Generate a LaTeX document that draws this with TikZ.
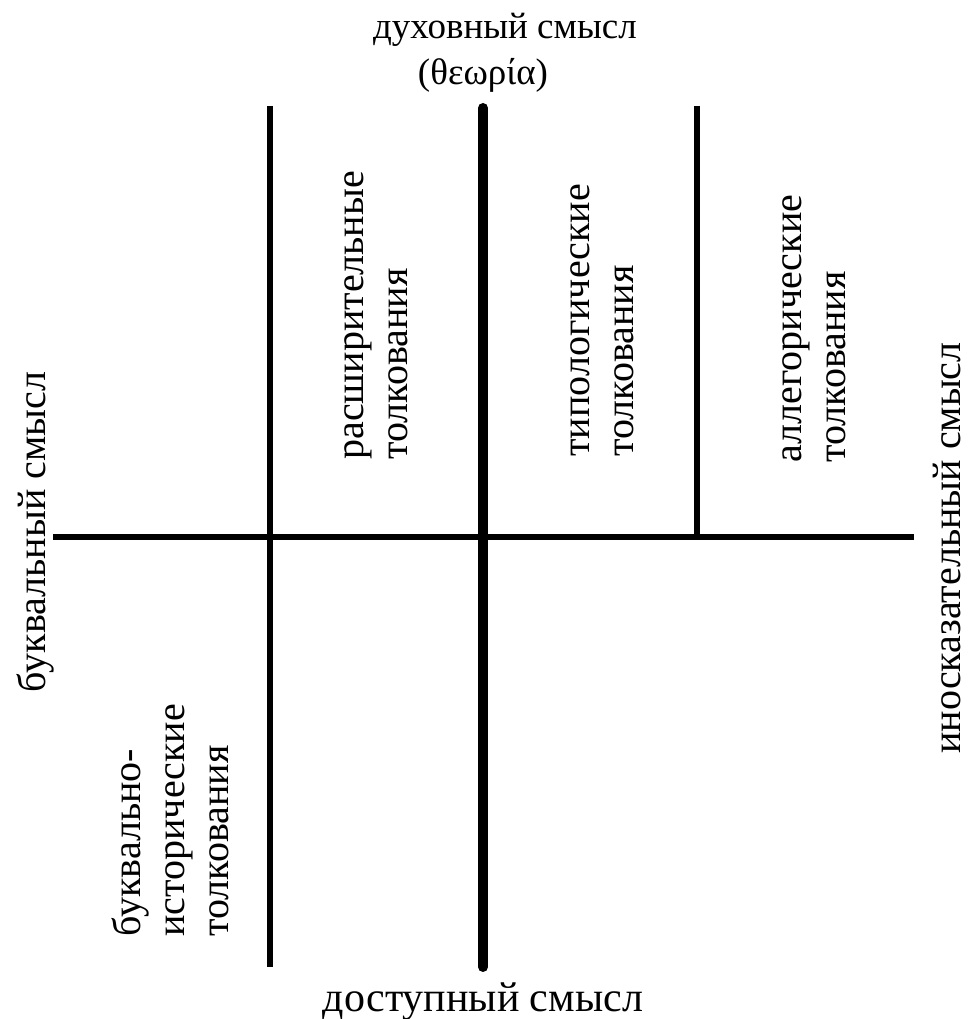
\documentclass[tikz,border=0pt]{standalone}
\usepackage{fontspec}
\setmainfont{Liberation Serif}
\usepackage{tikz}

\begin{document}
\begin{tikzpicture}[x=0.5pt,y=0.5pt,
  thinline/.style={line width=3pt},
  thickline/.style={line width=5pt,line cap=round},
  vlabel/.style={rotate=90,inner sep=0pt,align=left,anchor=west},
  every node/.style={font=\fontsize{20}{22}\selectfont}]

\useasboundingbox (0,0) rectangle (968,1019);

\coordinate (h1) at (53,482);
\coordinate (h2) at (914,482);
\coordinate (l1) at (270,913);
\coordinate (l2) at (270,52);
\coordinate (c1) at (483,911);
\coordinate (c2) at (483,52);
\coordinate (r1) at (697,913);
\coordinate (r2) at (697,482);

\draw [thinline] (h1) -- (h2);
\draw [thinline] (l1) -- (l2);
\draw [thickline] (c1) -- (c2);
\draw [thinline] (r1) -- (r2);

\node[anchor=base,font=\fontsize{18.5}{22}\selectfont] (s1) at (505,980) {духовный смысл};
\node[anchor=base,font=\fontsize{18.5}{22}\selectfont] (s2) at (483,934) {(θεωρία)};
\node[anchor=base,font=\fontsize{21}{22}\selectfont] (s3) at (483,7) {доступный смысл};

\node[anchor=base,rotate=90] (s4) at (45,487) {буквальный смысл};
\node[anchor=base,rotate=90] (s5) at (960,471) {иносказательный смысл};

\node[vlabel] (t1) at (376,559) {расширительные\\толкования};
\node[vlabel] (t2) at (602,562) {типологические\\толкования};
\node[vlabel] (t3) at (814,556) {аллегорические\\толкования};
\node[vlabel] (t4) at (170,82) {буквально-\\исторические\\толкования};

\end{tikzpicture}
\end{document}
